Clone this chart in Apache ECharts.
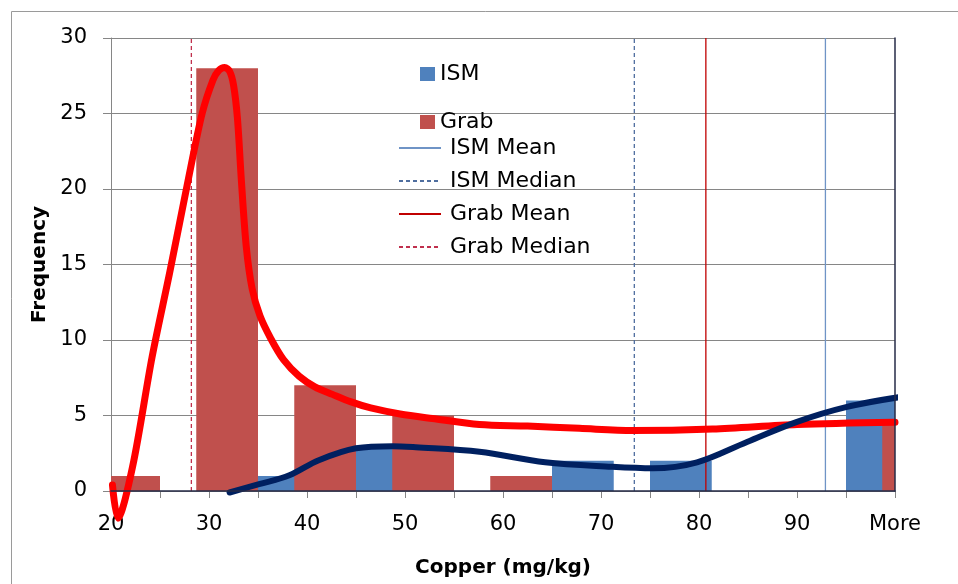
<!DOCTYPE html>
<html><head><meta charset="utf-8">
<script src="https://cdn.jsdelivr.net/npm/echarts@6/dist/echarts.min.js"></script>
<style>html,body{margin:0;padding:0;background:#fff}#c{width:958px;height:584px}</style>
</head><body><div id="c"></div>
<script>
// ---- data ----
const tickLabels = ['20', '30', '40', '50', '60', '70', '80', '90', 'More'];
const ismCounts  = [0, 1, 3, 0, 2, 2, 0, 6, 0];
const grabCounts = [1, 28, 7, 5, 1, 0, 0, 0, 4.5];

const grabCurveX = [20.15, 20.7, 22.2, 24.2, 26.0, 28.0, 29.3, 30.4, 31.0, 31.6, 32.1, 32.5, 32.9, 33.3, 33.8, 34.4, 35.2, 36.3, 37.6, 39.2, 40.8, 42.6, 44.5, 46.5, 49.5, 52.8, 57.6, 62.5, 67.8, 73.2, 81.4, 90.0, 100.0];
const grabCurveY = [0.4, -1.8, 1.6, 8.9, 14.5, 21.0, 25.0, 27.2, 27.85, 28.05, 27.8, 26.9, 24.7, 20.6, 16.2, 13.4, 11.6, 10.1, 8.7, 7.6, 6.9, 6.4, 5.9, 5.5, 5.1, 4.8, 4.4, 4.3, 4.15, 4.0, 4.1, 4.4, 4.55];

const ismCurveX = [32.1, 35.1, 38.2, 41.2, 45.0, 48.7, 51.1, 57.6, 64.3, 71.1, 75.3, 79.8, 84.9, 90.0, 95.1, 100.7];
const ismCurveY = [-0.1, 0.45, 1.04, 2.04, 2.83, 2.97, 2.9, 2.6, 1.9, 1.6, 1.5, 1.9, 3.25, 4.58, 5.57, 6.24];

const statNames  = ['ISM Mean', 'ISM Median', 'Grab Mean', 'Grab Median'];
const statValues = [92.9, 73.4, 80.7, 28.2];

// ---- styles ----
const FONT = 'DejaVu Sans';
const statStyles = [
  {color: '#6F94C6', type: 'solid'},
  {color: '#4F6E9F', type: [4, 3]},
  {color: '#C00000', type: 'solid'},
  {color: '#C0304D', type: [4, 3]}
];
const BIN_START = 20, BIN_STEP = 10, BAR_W = 6.3;

function barRenderer(side) {
  return function (params, api) {
    const c = api.value(0), v = api.value(1);
    if (!v) return null;
    const xa = side < 0 ? c - BAR_W : c;
    const xb = side < 0 ? c : c + BAR_W;
    const p0 = api.coord([xa, v]);
    const p1 = api.coord([xb, 0]);
    const cs = params.coordSys;
    const rect = echarts.graphic.clipRectByRect(
      {x: p0[0], y: p0[1], width: p1[0] - p0[0], height: p1[1] - p0[1]},
      {x: cs.x, y: cs.y, width: cs.width, height: cs.height});
    if (!rect) return null;
    return {type: 'rect', shape: rect, style: {fill: api.visual('color')}};
  };
}
const toBins = arr => arr.map((v, i) => [BIN_START + BIN_STEP * (i + 0.5), v]);
const zip = (xs, ys) => xs.map((x, i) => [x, ys[i]]);

const chart = echarts.init(document.getElementById('c'), null, {renderer: 'canvas'});
const series = [
  {name: 'ISM', type: 'custom', renderItem: barRenderer(1), itemStyle: {color: '#4F81BD'},
   data: toBins(ismCounts), z: 2, encode: {x: 0, y: 1}},
  {name: 'Grab', type: 'custom', renderItem: barRenderer(-1), itemStyle: {color: '#C0504D'},
   data: toBins(grabCounts), z: 2, encode: {x: 0, y: 1}}
];
statNames.forEach((n, k) => {
  series.push({name: n, type: 'line', symbol: 'none', z: 3, silent: true, clip: false,
    lineStyle: {color: statStyles[k].color, type: statStyles[k].type, width: 1.3},
    itemStyle: {color: statStyles[k].color},
    data: [[statValues[k], 0], [statValues[k], 30]]});
});
series.push({name: 'Grab fit', type: 'line', symbol: 'none', smooth: 0.3, clip: false, z: 4,
  lineStyle: {color: '#FF0000', width: 7, cap: 'round', join: 'round'}, data: zip(grabCurveX, grabCurveY)});
series.push({name: 'ISM fit', type: 'line', symbol: 'none', smooth: 0.35, clip: false, z: 5,
  lineStyle: {color: '#002060', width: 6, cap: 'round', join: 'round'}, data: zip(ismCurveX, ismCurveY)});

chart.setOption({
  animation: false,
  backgroundColor: '#fff',
  textStyle: {fontFamily: FONT},
  graphic: [{type: 'rect', left: 9, top: 9, shape: {width: 1000, height: 700},
    style: {fill: 'none', stroke: '#9A9A9A', lineWidth: 1}, z: -10}],
  grid: {left: 111, right: 63, top: 38, bottom: 93, show: false},
  legend: [
    {data: ['ISM', 'Grab'], orient: 'vertical', left: 415, top: 58, itemGap: 26,
     itemWidth: 15, itemHeight: 14, icon: 'rect', selectedMode: false,
     textStyle: {fontFamily: FONT, fontSize: 22, color: '#000', lineHeight: 22}},
    {data: statNames, orient: 'vertical', left: 393, top: 132, itemGap: 11,
     itemWidth: 42, itemHeight: 14, selectedMode: false,
     itemStyle: {opacity: 0},
     textStyle: {fontFamily: FONT, fontSize: 22, color: '#000', lineHeight: 22, padding: [0, 0, 0, 4]}}
  ],
  xAxis: [
    {type: 'value', min: 20, max: 100, interval: 5, position: 'bottom',
     name: 'Copper (mg/kg)', nameLocation: 'middle', nameGap: 67,
     nameTextStyle: {fontFamily: FONT, fontSize: 20, fontWeight: 'bold', color: '#000'},
     axisLine: {show: true, lineStyle: {color: '#868686', width: 1}},
     axisTick: {show: true, length: 7, lineStyle: {color: '#868686'}},
     splitLine: {show: false},
     axisLabel: {fontFamily: FONT, fontSize: 21, color: '#000', margin: 23, showMaxLabel: true, showMinLabel: true,
       formatter: v => (v - BIN_START) % BIN_STEP === 0 ? tickLabels[(v - BIN_START) / BIN_STEP] : ''}},
    {type: 'value', min: 20, max: 100, position: 'top', z: 6,
     axisLine: {show: true, lineStyle: {color: '#262B47', width: 1.5}},
     axisTick: {show: false}, axisLabel: {show: false}, splitLine: {show: false}}
  ],
  yAxis: [
    {type: 'value', min: 0, max: 30, interval: 5,
     name: 'Frequency', nameLocation: 'middle', nameGap: 60, nameRotate: 90,
     nameTextStyle: {fontFamily: FONT, fontSize: 20, fontWeight: 'bold', color: '#000'},
     axisLine: {show: true, lineStyle: {color: '#868686', width: 1}},
     axisTick: {show: true, length: 8, lineStyle: {color: '#868686'}},
     splitLine: {show: true, lineStyle: {color: '#868686', width: 1}},
     axisLabel: {fontFamily: FONT, fontSize: 21, color: '#000', margin: 24}},
    {type: 'value', min: 0, max: 30, position: 'right', z: 6,
     axisLine: {show: true, lineStyle: {color: '#262B47', width: 1.5}},
     axisTick: {show: false}, axisLabel: {show: false}, splitLine: {show: false}}
  ],
  series: series
});
</script></body></html>
